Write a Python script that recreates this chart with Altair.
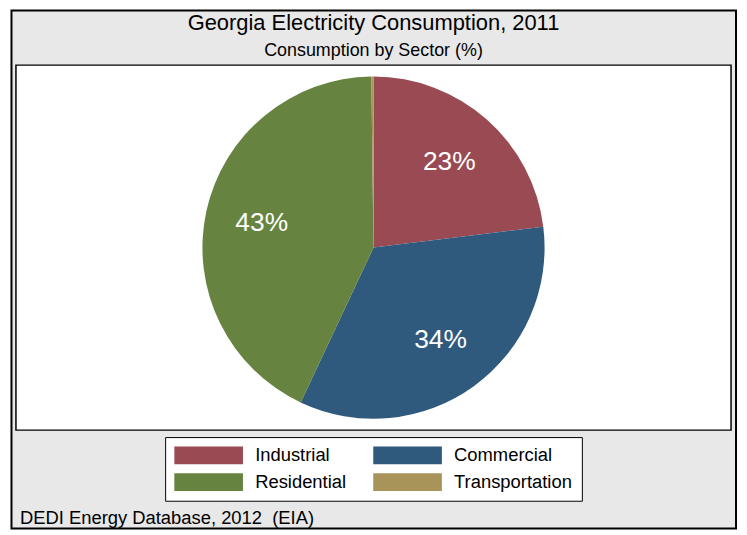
import altair as alt
import pandas as pd

sectors = ["Industrial", "Commercial", "Residential", "Transportation"]
shares = [23.05, 33.95, 42.8, 0.2]
colors = ["#9a4a52", "#2f5a7e", "#66843f", "#a89458"]
order_idx = [0, 1, 2, 3]

title_text = "Georgia Electricity Consumption, 2011"
subtitle_text = "Consumption by Sector (%)"
caption_text = "DEDI Energy Database, 2012 \u00a0(EIA)"

FONT = "Liberation Sans"
W, H = 719, 367

df = pd.DataFrame({"sector": sectors, "share": shares, "idx": order_idx})
one = pd.DataFrame({"caption": [caption_text]})

frame = alt.Chart(one).mark_rect(
    fill="#e8e8e8", stroke="black", strokeWidth=2
).encode(
    x=alt.value(-4.5), x2=alt.value(W + 5), y=alt.value(-55), y2=alt.value(H + 99)
)

plot_box = alt.Chart(one).mark_rect(
    fill="white", stroke="black", strokeWidth=1.5
).encode(
    x=alt.value(0), x2=alt.value(W), y=alt.value(0), y2=alt.value(H)
)

base = alt.Chart(df).encode(
    theta=alt.Theta("share:Q", stack=True),
    order=alt.Order("idx:Q"),
)

pie = base.mark_arc(radius=172).encode(
    color=alt.Color(
        "sector:N",
        scale=alt.Scale(domain=sectors, range=colors),
        legend=alt.Legend(
            title=None,
            orient="none",
            legendX=150,
            legendY=374,
            columns=2,
            direction="horizontal",
            symbolType="M-1,-1H6.667V1H-1Z",
            symbolSize=324,
            symbolStrokeWidth=0,
            symbolOpacity=1,
            labelFont=FONT,
            labelFontSize=18.5,
            labelColor="black",
            labelOffset=63,
            columnPadding=26,
            rowPadding=8,
            padding=9,
            strokeColor="black",
            fillColor="white",
        ),
    )
)

labels = base.mark_text(
    radius=115, fontSize=26.5, font=FONT, color="white"
).transform_calculate(
    lab="datum.share >= 1 ? format(datum.share, '.0f') + '%' : ''"
).encode(text="lab:N")

caption = alt.Chart(one).mark_text(
    align="left", baseline="alphabetic", font=FONT, fontSize=18.5, color="black"
).encode(x=alt.value(4), y=alt.value(H + 94), text="caption:N")

chart = alt.layer(frame, plot_box, pie, labels, caption).properties(
    width=W,
    height=H,
    padding={"left": 8, "top": 56, "right": 8, "bottom": 101},
    autosize=alt.AutoSizeParams(type="none"),
    background="white",
    title=alt.TitleParams(
        text=title_text,
        subtitle=subtitle_text,
        font=FONT,
        fontSize=22,
        fontWeight="normal",
        color="black",
        subtitleFont=FONT,
        subtitleFontSize=18,
        subtitleColor="black",
        subtitlePadding=7,
        anchor="middle",
        offset=-51.5,
    ),
).configure_view(stroke=None)

chart.save("out.html", embed_options={"renderer": "svg", "actions": False})
